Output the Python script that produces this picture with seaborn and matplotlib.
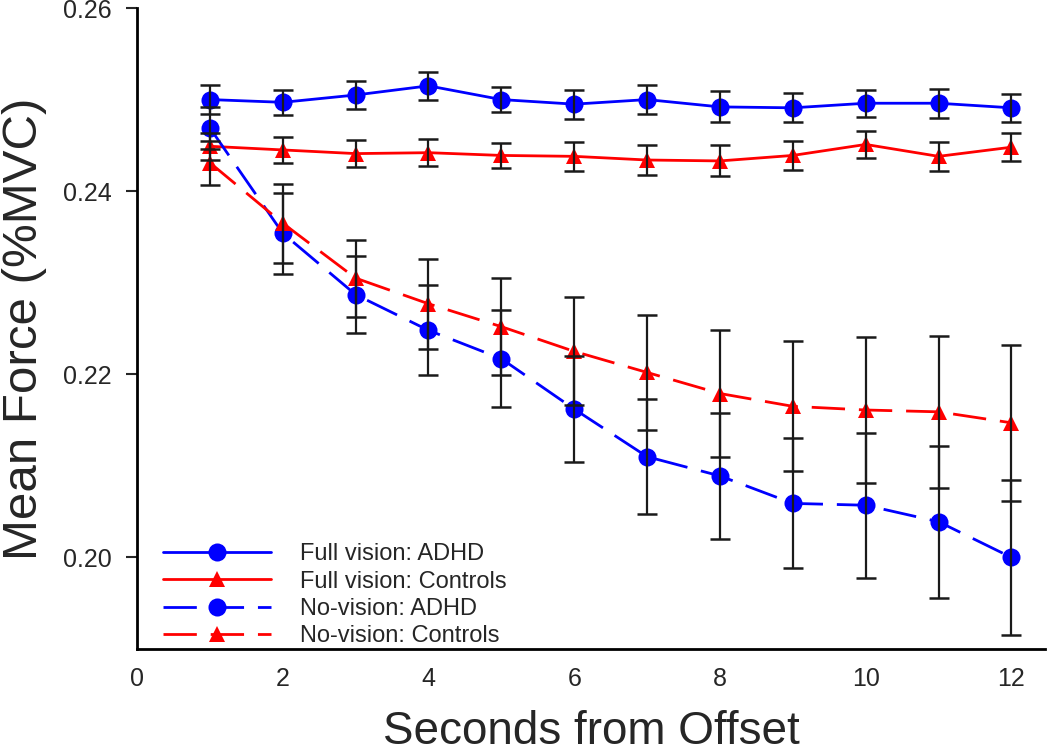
import numpy as np
import pandas as pd
import matplotlib
matplotlib.use("Agg")
import matplotlib.pyplot as plt
import matplotlib.lines as mlines
import seaborn as sns

# ---- data ----
seconds = [1, 2, 3, 4, 5, 6, 7, 8, 9, 10, 11, 12]

fv_adhd = [0.2500, 0.2497, 0.2505, 0.2515, 0.2500, 0.2495, 0.2500, 0.2492, 0.2491, 0.2496, 0.2496, 0.2491]
fv_adhd_err = [0.0016, 0.0014, 0.0015, 0.0015, 0.0014, 0.0016, 0.0016, 0.0017, 0.0016, 0.0015, 0.0016, 0.0015]

fv_ctrl = [0.2449, 0.2445, 0.2441, 0.2442, 0.2439, 0.2438, 0.2434, 0.2433, 0.2439, 0.2451, 0.2438, 0.2448]
fv_ctrl_err = [0.0015, 0.0014, 0.0015, 0.0015, 0.0014, 0.0016, 0.0016, 0.0017, 0.0016, 0.0015, 0.0016, 0.0015]

nv_adhd = [0.2469, 0.2354, 0.2287, 0.2248, 0.2217, 0.2162, 0.2110, 0.2089, 0.2059, 0.2057, 0.2039, 0.2000]
nv_adhd_err = [0.0023, 0.0044, 0.0042, 0.0049, 0.0053, 0.0058, 0.0063, 0.0069, 0.0071, 0.0079, 0.0083, 0.0085]

nv_ctrl = [0.2431, 0.2365, 0.2305, 0.2277, 0.2252, 0.2225, 0.2202, 0.2179, 0.2165, 0.2161, 0.2159, 0.2147]
nv_ctrl_err = [0.0024, 0.0043, 0.0042, 0.0049, 0.0053, 0.0059, 0.0063, 0.0069, 0.0071, 0.0080, 0.0083, 0.0085]

labels = ["Full vision: ADHD", "Full vision: Controls", "No-vision: ADHD", "No-vision: Controls"]

# ---- styles ----
series = [
    (labels[0], fv_adhd, fv_adhd_err, "blue", "o", ""),
    (labels[1], fv_ctrl, fv_ctrl_err, "red", "^", ""),
    (labels[2], nv_adhd, nv_adhd_err, "blue", "o", (12, 5)),
    (labels[3], nv_ctrl, nv_ctrl_err, "red", "^", (12, 5)),
]

sns.set_style("ticks")
plt.rcParams['font.family'] = ['Liberation Sans', 'DejaVu Sans']

fig = plt.figure(figsize=(10.5, 7.55), dpi=100)
ax = fig.add_axes([0.1305, 0.1404, 0.8647, 0.849])

handles = []
for name, mean, err, col, mk, dash in series:
    ms = 13 if mk == 'o' else 12
    df = pd.DataFrame({'Seconds': seconds, 'Force': mean})
    sns.lineplot(data=df, x='Seconds', y='Force', ax=ax, color=col, marker=mk,
                 markersize=ms, markeredgewidth=0,
                 linewidth=2, dashes=False, zorder=2)
    line = ax.get_lines()[-1]
    if dash:
        line.set_dashes(dash)
    ax.errorbar(seconds, mean, yerr=err, fmt='none', ecolor='#1a1a1a',
                elinewidth=1.6, capsize=7, capthick=1.8, zorder=3)
    h = mlines.Line2D([], [], color=col, marker=mk, markersize=ms,
                      markeredgewidth=0, linewidth=2, label=name)
    if dash:
        h.set_dashes(dash)
    handles.append(h)

ax.set_xlim(0, 12.46)
ax.set_ylim(0.19, 0.26)
ax.set_xticks([0, 2, 4, 6, 8, 10, 12])
ax.set_yticks([0.20, 0.22, 0.24, 0.26])
ax.set_yticklabels(["0.20", "0.22", "0.24", "0.26"])
ax.tick_params(axis='x', length=0, pad=13, labelsize=18)
ax.tick_params(axis='y', length=8, width=1.5, pad=10, labelsize=18, direction='out')

for s in ['top', 'right']:
    ax.spines[s].set_visible(False)
for s in ['left', 'bottom']:
    ax.spines[s].set_linewidth(2)
    ax.spines[s].set_color('black')

ax.set_xlabel("Seconds from Offset", fontsize=33, labelpad=14)
ax.set_ylabel("Mean Force (%MVC)", fontsize=35.5, labelpad=12)

ax.legend(handles=handles, loc='lower left', bbox_to_anchor=(0.005, -0.03),
          frameon=False, fontsize=17, handlelength=4.6, handletextpad=1.2,
          labelspacing=0.22, numpoints=1)

fig.savefig("out.png", dpi=100)
